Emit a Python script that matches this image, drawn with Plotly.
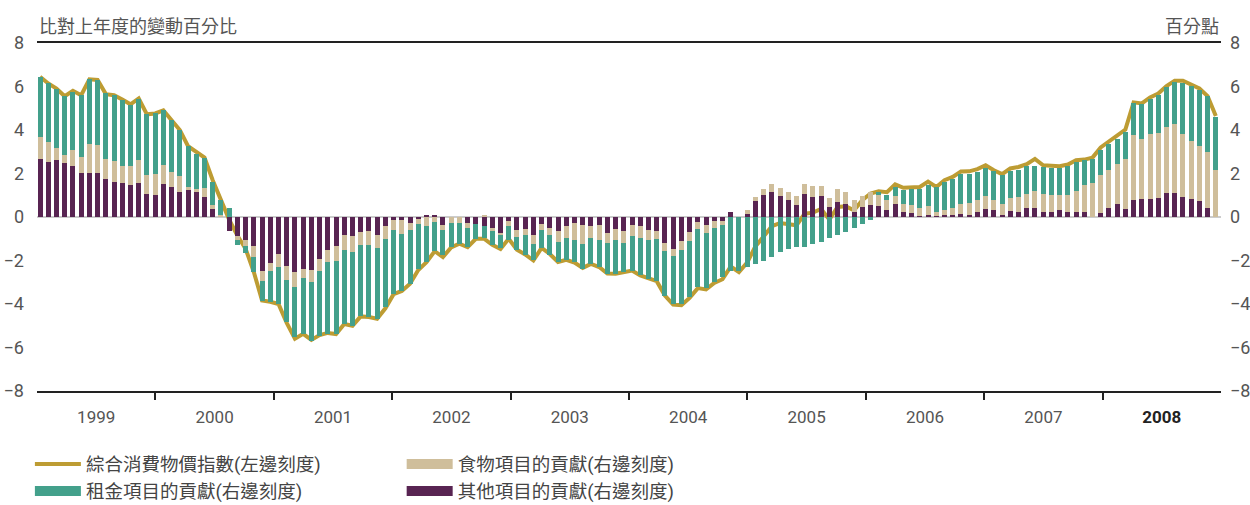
import plotly.graph_objects as go

years = ["1999", "2000", "2001", "2002", "2003", "2004", "2005", "2006", "2007", "2008"]

cpi = [6.45, 6.14, 5.9, 5.55, 5.8, 5.6, 6.33, 6.3, 5.65, 5.6, 5.4, 5.18, 5.45, 4.72, 4.76, 4.9, 4.45, 4.0, 3.26, 3.0,
       2.73, 1.69, 0.77, -0.12, -0.85, -1.46, -2.53, -3.84, -3.9, -4.0, -4.87, -5.6, -5.37, -5.65, -5.43, -5.33, -5.38, -4.92, -5.0, -4.57,
       -4.6, -4.68, -4.2, -3.55, -3.4, -3.07, -2.44, -2.08, -1.57, -1.84, -1.4, -1.23, -1.39, -1.0, -1.0, -1.28, -1.47, -1.0, -1.5, -1.72,
       -2.0, -1.42, -1.7, -2.07, -1.97, -2.1, -2.34, -2.16, -2.3, -2.6, -2.61, -2.55, -2.46, -2.69, -2.84, -2.95, -3.61, -4.03, -4.05, -3.72,
       -3.27, -3.33, -3.03, -2.86, -2.28, -2.53, -2.1, -1.35, -0.9, -0.42, -0.28, -0.34, -0.38, 0.15, 0.2, 0.37, -0.12, 0.46, 0.49, 0.31,
       0.77, 1.08, 1.18, 1.14, 1.5, 1.34, 1.35, 1.38, 1.63, 1.38, 1.69, 1.84, 2.09, 2.1, 2.2, 2.38, 2.15, 1.97, 2.23, 2.3,
       2.43, 2.67, 2.38, 2.37, 2.33, 2.41, 2.61, 2.64, 2.73, 3.2, 3.46, 3.72, 4.02, 5.27, 5.22, 5.5, 5.68, 6.02, 6.27, 6.27,
       6.11, 5.91, 5.56, 4.64]

food = [1.03, 0.92, 0.55, 0.35, 0.75, 0.72, 1.32, 1.27, 0.91, 0.95, 0.77, 0.88, 1.04, 0.88, 1.0, 0.88, 0.69, 0.72, 0.09, 0.09,
        0.43, 0.18, 0.08, 0.0, -0.2, -0.28, -0.5, -0.42, -0.37, -0.58, -0.61, -0.69, -0.43, -0.57, -0.54, -0.57, -0.69, -0.66, -0.72, -0.6,
        -0.65, -0.61, -0.6, -0.43, -0.65, -0.35, -0.2, -0.43, -0.25, -0.23, -0.29, -0.29, -0.26, 0.0, 0.1, -0.13, -0.1, -0.21, -0.31, -0.28,
        -0.41, -0.28, -0.34, -0.51, -0.55, -0.78, -0.88, -0.55, -0.69, -0.46, -0.51, -0.55, -0.51, -0.55, -0.46, -0.37, -0.37, -0.31, -0.41, -0.41,
        -0.34, -0.37, -0.32, -0.18, 0.0, 0.0, 0.15, 0.18, 0.28, 0.38, 0.4, 0.37, 0.41, 0.5, 0.5, 0.46, 0.41, 0.6, 0.55, 0.55,
        0.51, 0.6, 0.54, 0.46, 0.37, 0.41, 0.37, 0.34, 0.4, 0.17, 0.23, 0.32, 0.46, 0.55, 0.55, 0.6, 0.46, 0.54, 0.6, 0.69,
        0.65, 0.78, 0.83, 0.78, 0.69, 0.78, 0.97, 1.24, 1.57, 1.75, 1.75, 1.84, 2.3, 3.0, 2.76, 3.0, 3.0, 3.04, 3.2, 2.9,
        2.67, 2.53, 2.58, 2.15]

rent = [2.76, 2.69, 2.69, 2.72, 2.67, 2.86, 2.98, 3.0, 3.03, 3.04, 3.04, 2.81, 2.81, 2.8, 2.76, 2.53, 2.4, 2.12, 1.89, 1.64,
        1.35, 1.08, 0.69, 0.41, -0.2, -0.3, -0.7, -0.92, -1.43, -1.69, -1.95, -2.3, -2.56, -2.69, -3.0, -3.3, -3.33, -3.41, -3.38, -3.23,
        -3.3, -3.26, -3.12, -2.96, -2.58, -2.46, -2.1, -1.64, -1.3, -1.15, -1.1, -0.95, -0.88, -0.66, -0.57, -0.66, -0.6, -0.65, -0.61, -0.89,
        -0.74, -0.81, -0.92, -0.9, -1.0, -1.0, -1.12, -1.21, -1.23, -1.4, -1.54, -1.32, -1.57, -1.7, -1.77, -1.92, -2.03, -2.23, -2.46, -2.56,
        -2.66, -2.52, -2.47, -2.38, -2.49, -2.5, -2.3, -2.15, -2.0, -1.85, -1.62, -1.46, -1.4, -1.4, -1.25, -1.15, -0.98, -0.84, -0.71, -0.51,
        -0.32, -0.15, 0.1, 0.26, 0.43, 0.63, 0.77, 0.9, 1.0, 1.14, 1.3, 1.37, 1.41, 1.37, 1.3, 1.32, 1.34, 1.31, 1.26, 1.27,
        1.29, 1.18, 1.26, 1.28, 1.26, 1.37, 1.35, 1.15, 1.08, 1.18, 1.2, 1.18, 1.26, 1.49, 1.61, 1.6, 1.77, 1.86, 1.94, 2.37,
        2.53, 2.58, 2.58, 2.46]

other = [2.66, 2.53, 2.63, 2.49, 2.33, 2.03, 2.03, 2.03, 1.75, 1.61, 1.57, 1.46, 1.57, 1.04, 1.0, 1.5, 1.37, 1.15, 1.27, 1.18,
         0.91, 0.35, 0.0, -0.65, -0.88, -1.07, -1.35, -2.5, -2.12, -1.72, -2.27, -2.53, -2.38, -2.43, -1.92, -1.5, -1.35, -0.85, -0.89, -0.71,
         -0.66, -0.81, -0.43, -0.15, -0.15, -0.26, -0.1, 0.05, 0.08, -0.38, 0.0, 0.0, -0.26, -0.34, -0.41, -0.52, -0.74, -0.2, -0.61, -0.57,
         -0.84, -0.34, -0.5, -0.66, -0.41, -0.29, -0.38, -0.41, -0.38, -0.75, -0.57, -0.66, -0.38, -0.43, -0.61, -0.66, -1.21, -1.46, -1.12, -0.71,
         -0.23, -0.38, -0.2, -0.2, 0.23, 0.0, 0.16, 0.72, 1.0, 1.13, 0.95, 0.77, 0.54, 1.04, 0.91, 0.95, 0.45, 0.68, 0.58, 0.21,
         0.45, 0.54, 0.49, 0.31, 0.58, 0.21, 0.17, 0.06, 0.09, 0.05, 0.08, 0.08, 0.12, 0.08, 0.21, 0.35, 0.31, 0.08, 0.26, 0.21,
         0.4, 0.4, 0.21, 0.21, 0.31, 0.21, 0.21, 0.21, 0.0, 0.17, 0.4, 0.58, 0.35, 0.77, 0.81, 0.81, 0.86, 1.09, 1.09, 0.91,
         0.81, 0.72, 0.4, 0.0]

y_ticks = [8, 6, 4, 2, 0, -2, -4, -6, -8]

names = {
    "cpi": "綜合消費物價指數(左邊刻度)",
    "food": "食物項目的貢獻(右邊刻度)",
    "rent": "租金項目的貢獻(右邊刻度)",
    "other": "其他項目的貢獻(右邊刻度)",
}
colors = {"cpi": "#BD9C33", "food": "#CFBE9B", "rent": "#43A08B", "other": "#582452"}

n = len(cpi)
x = list(range(n))
x_range = [-0.37, n - 0.37]
seg = (x_range[1] - x_range[0]) / len(years)
year_centers = [x_range[0] + seg * (i + 0.5) for i in range(len(years))]
year_bounds = [x_range[0] + seg * i for i in range(1, len(years))]
year_text = [("<b><span style='color:#222222'>%s</span></b>" % y if y == years[-1] else y) for y in years]

FONT = "Roboto, 'Noto Sans CJK TC', sans-serif"
GREY = "#555555"

fig = go.Figure()
for key, vals in (("other", other), ("food", food), ("rent", rent)):
    fig.add_trace(go.Bar(x=x, y=vals, name=names[key], marker=dict(color=colors[key], line=dict(width=0)),
                         width=0.6, yaxis="y2", showlegend=False))

fig.add_trace(go.Scatter(x=x, y=cpi, mode="lines", name=names["cpi"],
                         line=dict(color=colors["cpi"], width=4), yaxis="y", showlegend=False))

# legend entries: left column (cpi, rent), right column (food, other)
legend_of = {"cpi": "legend", "rent": "legend", "food": "legend2", "other": "legend2"}
for rank, key in enumerate(("cpi", "rent", "food", "other")):
    fig.add_trace(go.Scatter(x=[None], y=[None], mode="lines", name=names[key], legendrank=rank + 1,
                             legend=legend_of[key],
                             line=dict(color=colors[key], width=(4 if key == "cpi" else 11))))

legend_common = dict(orientation="v", xanchor="left", xref="paper", yref="container", y=0.118,
                     yanchor="top", font=dict(size=18.5, color="#444444"), itemwidth=46,
                     tracegroupgap=0, bgcolor="rgba(0,0,0,0)")

fig.update_layout(
    width=1250, height=505,
    margin=dict(l=37, r=29, t=43, b=114, autoexpand=False),
    paper_bgcolor="white", plot_bgcolor="white",
    barmode="relative", bargap=0,
    font=dict(family=FONT, size=16, color=GREY),
    xaxis=dict(range=x_range, tickmode="array", tickvals=year_centers, ticktext=year_text,
               ticks="", showgrid=False, zeroline=False, showline=True, linecolor="#222222",
               linewidth=2, mirror=True, tickfont=dict(size=17, color=GREY), ticklabelstandoff=10,
               automargin=False,
               minor=dict(tickmode="array", tickvals=year_bounds, ticks="outside", ticklen=7,
                          tickwidth=2, tickcolor="#222222", showgrid=False)),
    yaxis=dict(range=[-8, 8], tickmode="array", tickvals=y_ticks, showgrid=False, zeroline=True,
               zerolinecolor="#cccccc", zerolinewidth=2, ticks="", tickfont=dict(size=18, color=GREY),
               ticklabelstandoff=12, automargin=False),
    yaxis2=dict(range=[-8, 8], tickmode="array", tickvals=y_ticks, overlaying="y", side="right",
                showgrid=False, zeroline=False, ticks="", tickfont=dict(size=18, color=GREY),
                ticklabelstandoff=8, automargin=False),
    legend=dict(x=-0.006, **legend_common),
    legend2=dict(x=0.308, **legend_common),
    annotations=[
        dict(text="比對上年度的變動百分比", xref="paper", yref="paper", x=0, y=1, xanchor="left",
             yanchor="bottom", yshift=4, showarrow=False, font=dict(size=18, color=GREY)),
        dict(text="百分點", xref="paper", yref="paper", x=1, y=1, xanchor="right",
             yanchor="bottom", yshift=4, showarrow=False, font=dict(size=18, color=GREY)),
    ],
)

fig.write_html("out.html", config={"displayModeBar": False},
               post_script="document.body.style.margin='0';document.body.style.overflow='hidden';")
